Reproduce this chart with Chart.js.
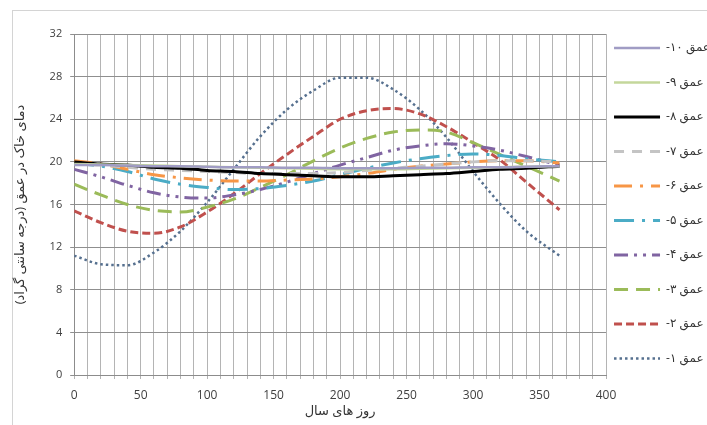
<!DOCTYPE html>
<html>
<head>
<meta charset="utf-8">
<script src="https://cdn.jsdelivr.net/npm/chart.js@4.4.1/dist/chart.umd.min.js"></script>
<style>
  body { margin: 0; background: #fff; overflow: hidden; }
  #wrap { position: relative; width: 707px; height: 425px; }
</style>
</head>
<body>
<div id="wrap"><canvas id="soilChart" width="707" height="425"></canvas></div>
<script>
const days = [0, 20, 40, 60, 80, 100, 120, 140, 160, 180, 200, 220, 240, 260, 280, 300, 320, 340, 365];

// soil temperature (deg C) per depth
const depth10 = [19.7, 19.7, 19.65, 19.6, 19.6, 19.55, 19.5, 19.5, 19.45, 19.45, 19.4, 19.4, 19.4, 19.45, 19.45, 19.5, 19.5, 19.55, 19.6];
const depth9 = [19.8, 19.75, 19.7, 19.65, 19.6, 19.55, 19.5, 19.45, 19.4, 19.35, 19.3, 19.3, 19.3, 19.35, 19.4, 19.45, 19.5, 19.55, 19.6];
const depth8 = [20.0, 19.8, 19.7, 19.5, 19.4, 19.2, 19.1, 18.9, 18.8, 18.7, 18.6, 18.6, 18.7, 18.8, 18.9, 19.1, 19.3, 19.4, 19.6];
const depth7 = [19.8, 19.7, 19.5, 19.3, 19.2, 19.1, 19.0, 18.9, 18.9, 18.9, 19.0, 19.2, 19.4, 19.6, 19.8, 20.0, 20.1, 20.1, 20.0];
const depth6 = [20.1, 19.8, 19.3, 18.8, 18.5, 18.3, 18.2, 18.2, 18.3, 18.4, 18.6, 18.9, 19.3, 19.6, 19.8, 20.0, 20.1, 20.1, 19.9];
const depth5 = [19.9, 19.6, 19.1, 18.4, 17.9, 17.6, 17.4, 17.5, 17.8, 18.2, 18.8, 19.4, 19.9, 20.3, 20.6, 20.75, 20.6, 20.3, 20.0];
const depth4 = [19.3, 18.6, 17.8, 17.1, 16.7, 16.6, 16.9, 17.4, 18.1, 18.9, 19.7, 20.4, 21.1, 21.5, 21.7, 21.5, 21.1, 20.5, 19.7];
const depth3 = [17.9, 16.9, 16.0, 15.45, 15.3, 15.75, 16.5, 17.6, 18.8, 20.1, 21.3, 22.2, 22.8, 23.0, 22.8, 21.8, 20.7, 19.6, 18.2];
const depth2 = [15.4, 14.3, 13.5, 13.3, 13.9, 15.3, 17.0, 18.9, 20.7, 22.4, 24.0, 24.8, 25.0, 24.5, 23.3, 21.8, 20.2, 18.1, 15.5];
const depth1 = [11.2, 10.4, 10.3, 11.5, 13.5, 16.2, 19.3, 22.4, 24.9, 26.7, 27.9, 27.9, 26.8, 24.9, 22.3, 19.1, 16.1, 13.5, 11.2];

const seriesNames = ['عمق ۱۰-', 'عمق ۹-', 'عمق ۸-', 'عمق ۷-', 'عمق ۶-', 'عمق ۵-', 'عمق ۴-', 'عمق ۳-', 'عمق ۲-', 'عمق ۱-'];
const seriesData = [depth10, depth9, depth8, depth7, depth6, depth5, depth4, depth3, depth2, depth1];
const seriesColors = ['#a09cc4', '#c4d79b', '#000000', '#c4c4c4', '#f79646', '#4bacc6', '#8064a2', '#9bbb59', '#c0504d', '#56708f'];
const seriesDash = [[], [], [], [10, 8], [18, 8, 3, 8], [20, 8, 3, 8], [14, 6, 3, 6, 3, 6], [14, 8], [8, 4], [2.5, 3]];
const seriesWidth = [2.5, 2.5, 3, 3, 3, 3, 3, 3, 3, 2.5];

const xTicks = [0, 50, 100, 150, 200, 250, 300, 350, 400];

const fontFamily = "'Open Sans', 'DejaVu Sans', sans-serif";

// light frame around the whole chart, like the original figure
const framePlugin = {
    id: 'frame',
    beforeDraw(chart) {
        const ctx = chart.ctx;
        ctx.save();
        ctx.fillStyle = '#ffffff';
        ctx.fillRect(0, 0, chart.width, chart.height);
        ctx.strokeStyle = '#d4d4d4';
        ctx.lineWidth = 1;
        ctx.strokeRect(12.5, 10.5, chart.width + 20, chart.height + 20);
        ctx.restore();
    }
};

const datasets = seriesData.map((values, i) => ({
    label: [seriesNames[i]],
    data: values,
    borderColor: seriesColors[i],
    backgroundColor: seriesColors[i],
    borderDash: seriesDash[i],
    borderWidth: seriesWidth[i],
    borderCapStyle: 'butt',
    pointRadius: 0,
    tension: 0.4,
    cubicInterpolationMode: 'monotone',
    fill: false
}));

function legendLabels(chart) {
    return chart.data.datasets.map((ds, i) => ({
        text: ds.label,
        fillStyle: ds.borderColor,
        strokeStyle: ds.borderColor,
        lineWidth: ds.borderWidth,
        lineDash: ds.borderDash,
        lineCap: 'butt',
        pointStyle: 'line',
        fontColor: '#333',
        hidden: false,
        datasetIndex: i
    }));
}

const ctx = document.getElementById('soilChart').getContext('2d');
new Chart(ctx, {
    type: 'line',
    data: { labels: days, datasets: datasets },
    options: {
        responsive: false,
        animation: false,
        layout: { padding: { left: 12, right: -13, top: 34, bottom: 6 } },
        plugins: {
            tooltip: { enabled: false },
            legend: {
                position: 'right',
                align: 'start',
                textDirection: 'rtl',
                labels: {
                    usePointStyle: true,
                    pointStyleWidth: 46,
                    padding: 8,
                    generateLabels: legendLabels,
                    font: { family: fontFamily, size: 12, lineHeight: 2.208 }
                }
            }
        },
        scales: {
            x: {
                type: 'linear',
                min: 0,
                max: 400,
                ticks: {
                    stepSize: 10,
                    autoSkip: false,
                    maxRotation: 0,
                    color: '#404040',
                    font: { family: fontFamily, size: 12 },
                    padding: 9,
                    callback: v => xTicks.includes(v) ? v : ''
                },
                grid: { color: '#b4b4b4', tickLength: 4 },
                border: { color: '#8c8c8c' },
                title: {
                    display: true,
                    text: 'روز های سال',
                    color: '#333',
                    font: { family: fontFamily, size: 13 },
                    padding: { top: -8, bottom: 0 }
                }
            },
            y: {
                min: 0,
                max: 32,
                ticks: {
                    stepSize: 4,
                    color: '#404040',
                    font: { family: fontFamily, size: 11 },
                    padding: 8
                },
                grid: { color: '#8f8f8f', tickLength: 4 },
                border: { color: '#8c8c8c' },
                title: {
                    display: true,
                    text: 'دمای خاک در عمق (درجه سانتی گراد)',
                    color: '#333',
                    font: { family: fontFamily, size: 13 },
                    padding: { top: 0, bottom: 14 }
                }
            }
        }
    },
    plugins: [framePlugin]
});
</script>
</body>
</html>
